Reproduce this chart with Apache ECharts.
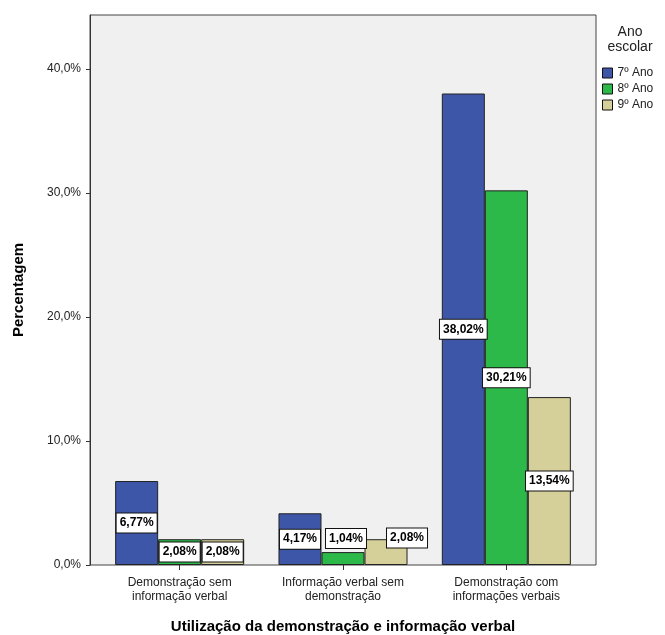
<!DOCTYPE html>
<html>
<head>
<meta charset="utf-8">
<script src="https://cdn.jsdelivr.net/npm/echarts@6/dist/echarts.min.js"></script>
<style>
	html, body { margin: 0; padding: 0; background: #fff; }
	#chart { width: 665px; height: 635px; }
</style>
</head>
<body>
<div id="chart"></div>
<script>
	// dados do gráfico
	var categorias = ['Demonstração sem\ninformação verbal', 'Informação verbal sem\ndemonstração', 'Demonstração com\ninformações verbais'];
	var anos = ['7º Ano', '8º Ano', '9º Ano'];
	var ano7 = [6.77, 4.17, 38.02];
	var ano8 = [2.08, 1.04, 30.21];
	var ano9 = [2.08, 2.08, 13.54];
	var yTicks = [0, 10, 20, 30, 40];
	var cores = ['#3e56a8', '#2db84a', '#d5cf99'];

	var fonte = 'Liberation Sans, Arial, sans-serif';

	function pct(v) {
		return v.toFixed(2).replace('.', ',') + '%';
	}

	// rótulos que o SPSS deslocou para não sobrepor
	var deslocar = {
		'1-1': [3, -20],
		'2-1': [21, -14]
	};

	function montarDados(valores, s) {
		return valores.map(function (v, i) {
			var off = deslocar[s + '-' + i];
			var item = { value: v };
			if (off) item.label = { offset: off };
			return item;
		});
	}

	var series = [ano7, ano8, ano9].map(function (valores, s) {
		return {
			name: anos[s],
			type: 'bar',
			barGap: '0%',
			barCategoryGap: '21%',
			data: montarDados(valores, s),
			itemStyle: { color: cores[s], borderColor: '#222', borderWidth: 1 },
			label: {
				show: true,
				position: 'inside',
				formatter: function (p) { return pct(p.value); },
				backgroundColor: '#fff',
				borderColor: '#111',
				borderWidth: 1,
				padding: [4, 3, 3, 3],
				color: '#000',
				fontWeight: 'bold',
				fontSize: 12,
				fontFamily: fonte
			}
		};
	});

	var myChart = echarts.init(document.getElementById('chart'));
	var option = {
		animation: false,
		textStyle: { fontFamily: fonte },
		graphic: [
			{
				type: 'rect',
				z: 0,
				shape: { x: 90, y: 15, width: 506, height: 550 },
				style: { fill: '#f0f0f0', stroke: '#444', lineWidth: 1 }
			},
			{
				type: 'text',
				x: 630,
				y: 25,
				style: {
					text: 'Ano\nescolar',
					fill: '#222',
					font: '14px ' + fonte,
					textAlign: 'center',
					lineHeight: 15
				}
			}
		],
		legend: {
			orient: 'vertical',
			left: 597,
			top: 62,
			itemWidth: 10,
			itemHeight: 10,
			itemGap: 4,
			itemTextGap: 4,
			icon: 'rect',
			data: anos,
			itemStyle: { borderColor: '#111', borderWidth: 1 },
			textStyle: { fontSize: 12, color: '#222', fontFamily: fonte }
		},
		grid: { left: 98, right: 77, top: 15, bottom: 70, outerBoundsMode: 'none' },
		xAxis: {
			type: 'category',
			data: categorias,
			name: 'Utilização da demonstração e informação verbal',
			nameLocation: 'middle',
			nameGap: 54,
			nameTextStyle: { fontSize: 15, fontWeight: 'bold', color: '#000', fontFamily: fonte },
			axisLine: { show: false },
			axisTick: { show: true, alignWithLabel: true, length: 5, lineStyle: { color: '#333' } },
			axisLabel: { fontSize: 12, color: '#222', lineHeight: 14, margin: 11, interval: 0 }
		},
		yAxis: {
			type: 'value',
			min: 0,
			max: 44.35,
			interval: 10,
			offset: 8,
			name: 'Percentagem',
			nameLocation: 'middle',
			nameGap: 64,
			nameTextStyle: { fontSize: 15, fontWeight: 'bold', color: '#000', fontFamily: fonte },
			axisLine: { show: true, lineStyle: { color: '#333' } },
			axisTick: { show: true, length: 4, customValues: yTicks, lineStyle: { color: '#333' } },
			splitLine: { show: false },
			axisLabel: {
				customValues: yTicks,
				fontSize: 12,
				color: '#222',
				margin: 9,
				formatter: function (v) { return v.toFixed(1).replace('.', ',') + '%'; }
			}
		},
		series: series
	};
	myChart.setOption(option);
</script>
</body>
</html>
